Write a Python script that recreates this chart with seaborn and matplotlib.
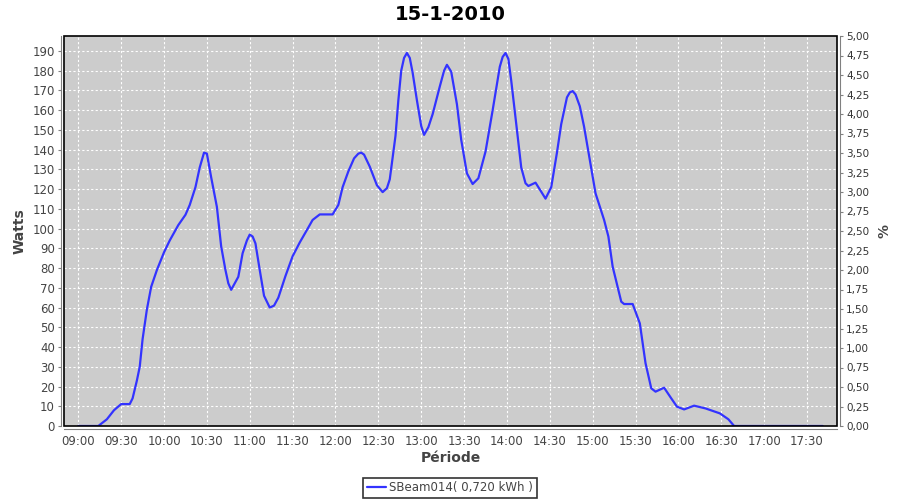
import matplotlib
matplotlib.use("Agg")
import matplotlib.pyplot as plt
import matplotlib.dates as mdates
from matplotlib.patches import Rectangle
from matplotlib.ticker import MultipleLocator, FuncFormatter
import seaborn as sns
import pandas as pd

# readings of the day (time, watts)
times = ["09:00", "09:14", "09:20", "09:25", "09:30", "09:36", "09:38", "09:41", "09:43", "09:45",
         "09:48", "09:51", "09:55", "10:00", "10:04", "10:10", "10:15", "10:18", "10:22", "10:25",
         "10:28", "10:30", "10:33", "10:37", "10:40", "10:43", "10:45", "10:47", "10:52", "10:55",
         "10:58", "11:00", "11:02", "11:04", "11:07", "11:10", "11:14", "11:17", "11:20", "11:25", "11:30",
         "11:35", "11:40", "11:44", "11:49", "11:58", "12:02", "12:05", "12:09", "12:13", "12:16", "12:18",
         "12:20", "12:24", "12:29", "12:33", "12:36", "12:38", "12:42", "12:44", "12:46", "12:48", "12:50",
         "12:52", "12:54", "12:57", "13:00", "13:02", "13:05", "13:08", "13:13", "13:16", "13:18", "13:21",
         "13:25", "13:28", "13:32", "13:36", "13:40", "13:45", "13:50", "13:55", "13:57", "13:59", "14:01",
         "14:03", "14:07", "14:10", "14:13", "14:15", "14:20", "14:24", "14:27", "14:31", "14:35", "14:38",
         "14:42", "14:44", "14:46", "14:48", "14:51", "14:54", "14:58", "15:02", "15:08", "15:11", "15:14",
         "15:20", "15:22", "15:28", "15:33", "15:37", "15:41", "15:44", "15:50", "15:55", "15:59", "16:04",
         "16:11", "16:19", "16:29", "16:35", "16:39", "17:41"]
watts = [0, 0, 3.4, 8, 11.1, 11.1, 14, 23, 30, 44,
         59, 70.5, 79, 88, 94, 101.8, 107, 112, 121, 131,
         138.5, 138, 126, 111, 91, 79, 72.3, 69, 75.6, 87.5,
         94, 97, 96, 92.5, 79, 66, 60, 61, 65, 76, 86,
         93, 99.3, 104.4, 107.2, 107.2, 112, 121, 129, 135.6, 138, 138.5,
         137.5, 131.4, 122, 118.5, 120.5, 125, 147, 165, 180, 186.5, 189,
         186.5, 179, 165, 152, 147.5, 151.4, 158, 172, 180, 183, 179.5,
         163, 145, 128, 122.6, 125.5, 139, 160, 182, 187, 189, 186,
         175, 150, 131, 123, 121.6, 123.3, 118.7, 115.2, 121, 138.5, 153,
         166.5, 169, 169.7, 168, 162, 151.6, 134.8, 117.9, 104.4, 96, 80.7,
         63, 61.8, 61.8, 52, 31.8, 19.1, 17.4, 19.4, 14, 9.8, 8.4,
         10.3, 8.9, 6.4, 3.4, 0, 0]

day = "2010-01-15 "
df = pd.DataFrame({"time": pd.to_datetime([day + t for t in times]), "watts": watts})

sns.set_style("white")
plt.rcParams['font.family'] = ['DejaVu Sans']

fig = plt.figure(figsize=(9, 5), dpi=100)
ax = fig.add_axes([64/900, 1-426/500, (837-64)/900, (426-36)/500])
ax.set_facecolor("#cccccc")

sns.lineplot(data=df, x="time", y="watts", ax=ax, color="#3333ff", linewidth=1.6,
             label="SBeam014( 0,720 kWh )", legend=False)

ax.set_xlim(pd.Timestamp(day + "08:50"), pd.Timestamp(day + "17:51"))
ax.set_ylim(0, 197.6)
ax.xaxis.set_major_locator(mdates.MinuteLocator(byminute=[0, 30]))
ax.xaxis.set_major_formatter(mdates.DateFormatter("%H:%M"))
ax.yaxis.set_major_locator(MultipleLocator(10))
ax.grid(True, color="white", linestyle=(0, (2, 2)), linewidth=0.8)

grey = "#808080"
txt = "#444444"
for s in ["left", "bottom"]:
    ax.spines[s].set_position(("outward", 2.5))
    ax.spines[s].set_color(grey)
ax.spines["top"].set_visible(False)
ax.spines["right"].set_visible(False)
ax.tick_params(axis="both", direction="out", length=2, color=grey, labelcolor=txt, labelsize=8.5, pad=2)
ax.set_xlabel("Période", fontsize=10, fontweight="bold", color=txt, labelpad=2)
ax.set_ylabel("Watts", fontsize=10, fontweight="bold", color=txt, labelpad=4)

ax2 = ax.twinx()
ax2.set_ylim(0, 5.0)
ax2.yaxis.set_major_locator(MultipleLocator(0.25))
ax2.yaxis.set_major_formatter(FuncFormatter(lambda v, p: f"{v:.2f}".replace(".", ",")))
for s in ["left", "top", "bottom"]:
    ax2.spines[s].set_visible(False)
ax2.spines["right"].set_position(("outward", 2.5))
ax2.spines["right"].set_color(grey)
ax2.tick_params(axis="y", direction="out", length=2, color=grey, labelcolor="#333333", labelsize=7.5, pad=2)
ax2.set_ylabel("%", fontsize=10, fontweight="bold", color=txt, labelpad=6)

# plot border
ax.add_patch(Rectangle((0, 0), 1, 1, transform=ax.transAxes, fill=False,
                       edgecolor="black", linewidth=1.2, clip_on=False, zorder=5))

fig.text(0.5, 1-15/500, "15-1-2010", ha="center", va="center", fontsize=14,
         fontweight="bold", color="black")

h, l = ax.get_legend_handles_labels()
leg = fig.legend(h, l, loc="center", bbox_to_anchor=(450/900, 1-488/500), fontsize=8.5,
                 frameon=True, fancybox=False, edgecolor="black", handlelength=1.6,
                 handletextpad=0.3, borderpad=0.3)
leg.get_frame().set_linewidth(1.2)
for t in leg.get_texts():
    t.set_color(txt)

fig.savefig("out.png", dpi=100)
